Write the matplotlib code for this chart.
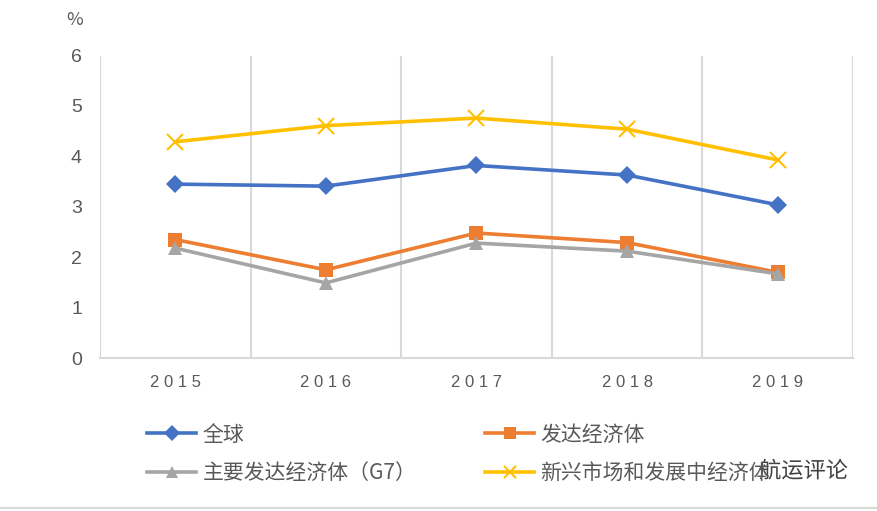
import numpy as np
import matplotlib.pyplot as plt
import matplotlib.patheffects as pe
from matplotlib.lines import Line2D

plt.rcParams['font.family'] = ['Noto Sans CJK SC', 'DejaVu Sans']

# datos
years = ['2015', '2016', '2017', '2018', '2019']
global_g = [3.45, 3.41, 3.82, 3.63, 3.04]
advanced = [2.35, 1.75, 2.48, 2.29, 1.70]
g7 = [2.18, 1.49, 2.28, 2.12, 1.67]
emerging = [4.29, 4.61, 4.76, 4.54, 3.93]

names = ['全球', '发达经济体', '主要发达经济体（G7）', '新兴市场和发展中经济体']
colors = ['#4472C4', '#ED7D31', '#A5A5A5', '#FFC000']
markers = ['D', 's', '^', 'x']
msizes = [9, 10, 10, 11]

fig = plt.figure(figsize=(8.77, 5.11), dpi=100)
ax = fig.add_axes([0.114, 0.2994, 0.8586, 0.5918])

x = np.arange(len(years))
series = [global_g, advanced, g7, emerging]
for vals, c, m, ms in zip(series, colors, markers, msizes):
    ax.plot(x, vals, color=c, lw=2.6, marker=m, markersize=ms,
            markeredgewidth=1.5 if m == 'x' else 0, markeredgecolor=c)

ax.set_xlim(-0.5, 4.5)
ax.set_ylim(0, 6)
ax.set_yticks(range(7))
ax.set_xticks(x)
ax.set_xticklabels([' '.join(y) for y in years])
ax.set_xticks(np.arange(-0.5, 5, 1), minor=True)
ax.grid(which='minor', axis='x', color='#D9D9D9', lw=1.5)
ax.tick_params(which='both', length=0)
ax.tick_params(axis='y', labelsize=14, colors='#595959', pad=13)
ax.tick_params(axis='x', labelsize=12, colors='#595959', pad=12)
for lab in ax.get_xticklabels() + ax.get_yticklabels():
    lab.set_fontfamily('Liberation Sans')
for s in ['top', 'right', 'left']:
    ax.spines[s].set_visible(False)
ax.spines['bottom'].set_color('#D9D9D9')
ax.spines['bottom'].set_linewidth(1.5)

fig.text(0.0855, 0.96, '%', fontsize=13, color='#595959', ha='center', va='center')

# leyenda
handles = [Line2D([], [], color=c, lw=2.6, marker=m, markersize=ms * 0.85,
                  markeredgewidth=1.5 if m == 'x' else 0, markeredgecolor=c)
           for c, m, ms in zip(colors, markers, msizes)]
order = [0, 2, 1, 3]
leg = fig.legend([handles[i] for i in order], [names[i] for i in order],
                 loc='upper left', bbox_to_anchor=(0.168, 0.171), ncol=2,
                 frameon=False, fontsize=15, handlelength=2.35,
                 columnspacing=3.3, labelspacing=0.78, handletextpad=0.3,
                 borderaxespad=0, borderpad=0)
for t in leg.get_texts():
    t.set_color('#595959')

# marca de agua
fig.text(0.967, 0.078, '航运评论', fontsize=16, color='#404040', ha='right',
         va='center', path_effects=[pe.withStroke(linewidth=3, foreground='white')])

fig.add_artist(Line2D([0, 1], [0.006, 0.006], color='#D9D9D9', lw=1.5))

fig.savefig('out.png', dpi=100)
